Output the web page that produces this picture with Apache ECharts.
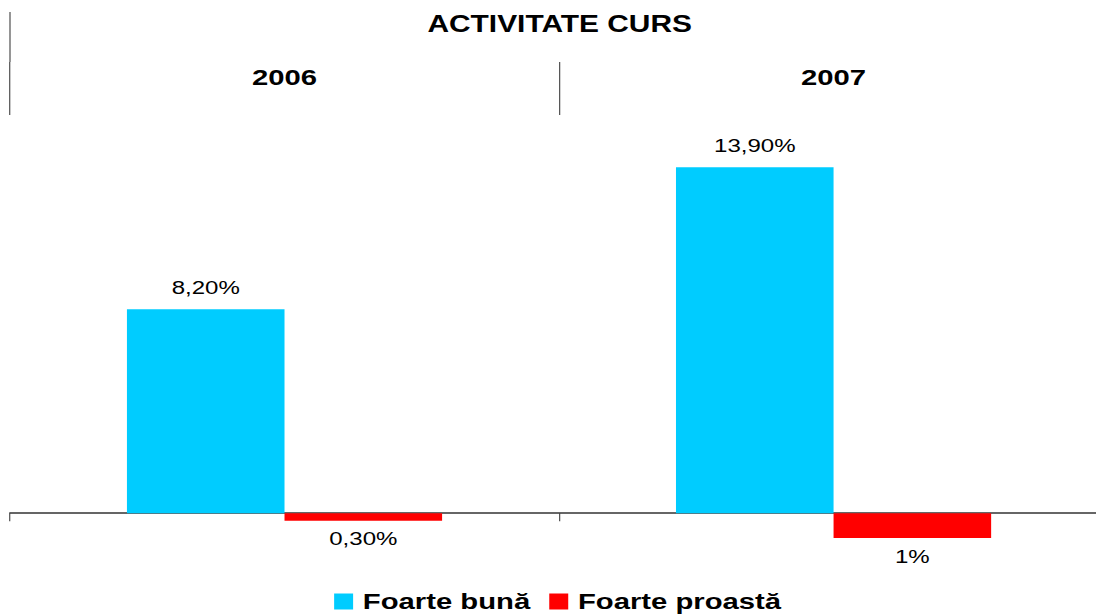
<!DOCTYPE html>
<html>
<head>
<meta charset="utf-8">
<title>ACTIVITATE CURS</title>
<script src="https://cdn.jsdelivr.net/npm/echarts@6/dist/echarts.min.js"></script>
<style>
  html, body { margin: 0; padding: 0; background: #ffffff; overflow: hidden; }
  /* the chart is laid out narrower and widened with a horizontal stretch */
  #chart { width: 843px; height: 614px; transform: scaleX(1.30012); transform-origin: 0 0; }
</style>
</head>
<body>
<div id="chart"></div>
<script>
// Chart data
const years = ['2006', '2007'];
const seriesNames = ['Foarte bună', 'Foarte proastă'];
const veryGood = [8.2, 13.9];
const veryBad = [-0.3, -1];
const veryGoodLabels = ['8,20%', '13,90%'];
const veryBadLabels = ['0,30%', '1%'];

const FONT = '"Liberation Sans", Arial, Helvetica, sans-serif';
const chart = echarts.init(document.getElementById('chart'), null, { renderer: 'svg' });

const plotLeft = 7.69;

chart.setOption({
  animation: false,
  backgroundColor: '#ffffff',
  title: {
    text: 'ACTIVITATE CURS',
    left: 430.5,
    textAlign: 'center',
    top: 13,
    padding: 0,
    textStyle: { fontFamily: FONT, fontSize: 23, fontWeight: 'bold', color: '#000000' }
  },
  legend: {
    data: seriesNames,
    left: 257,
    top: 590,
    padding: 0,
    itemWidth: 14.6,
    itemHeight: 16,
    itemGap: 14.6,
    icon: 'rect',
    textStyle: { fontFamily: FONT, fontSize: 22.5, fontWeight: 'bold', color: '#000000', padding: [0, 0, 0, 2.5] }
  },
  grid: { left: plotLeft, top: 115, bottom: 51, width: 844.6, outerBoundsMode: 'none' },
  xAxis: [
    {
      type: 'category',
      data: years,
      position: 'bottom',
      axisLine: { onZero: true, lineStyle: { color: '#333333', width: 1.5 } },
      axisTick: { show: true, length: 8, lineStyle: { color: '#333333', width: 0.8 } },
      axisLabel: { show: false },
      splitLine: { show: false }
    },
    {
      type: 'category',
      data: years,
      position: 'top',
      axisLine: { show: false, onZero: false },
      axisTick: { show: true, length: 53, lineStyle: { color: '#333333', width: 0.8 } },
      axisLabel: {
        margin: 26,
        fontFamily: FONT, fontSize: 22.5, fontWeight: 'bold', color: '#000000'
      },
      splitLine: { show: false }
    }
  ],
  yAxis: {
    type: 'value',
    min: -2,
    max: 16,
    show: false,
    splitLine: { show: false }
  },
  graphic: [
    {
      type: 'line',
      shape: { x1: plotLeft, y1: 12, x2: plotLeft, y2: 62 },
      style: { stroke: '#333333', lineWidth: 0.8 },
      silent: true
    }
  ],
  series: [
    {
      name: seriesNames[0],
      type: 'bar',
      xAxisIndex: 0,
      data: veryGood,
      barGap: '0%',
      barCategoryGap: '42.6%',
      itemStyle: { color: '#00CCFF' },
      label: {
        show: true,
        position: 'top',
        distance: 12,
        fontFamily: FONT, fontSize: 18.5, color: '#000000',
        formatter: p => veryGoodLabels[p.dataIndex]
      }
    },
    {
      name: seriesNames[1],
      type: 'bar',
      xAxisIndex: 0,
      data: veryBad,
      barGap: '0%',
      barCategoryGap: '42.6%',
      itemStyle: { color: '#FF0000' },
      label: {
        show: true,
        position: 'bottom',
        distance: 9,
        fontFamily: FONT, fontSize: 18.5, color: '#000000',
        formatter: p => veryBadLabels[p.dataIndex]
      }
    }
  ]
});
</script>
</body>
</html>
